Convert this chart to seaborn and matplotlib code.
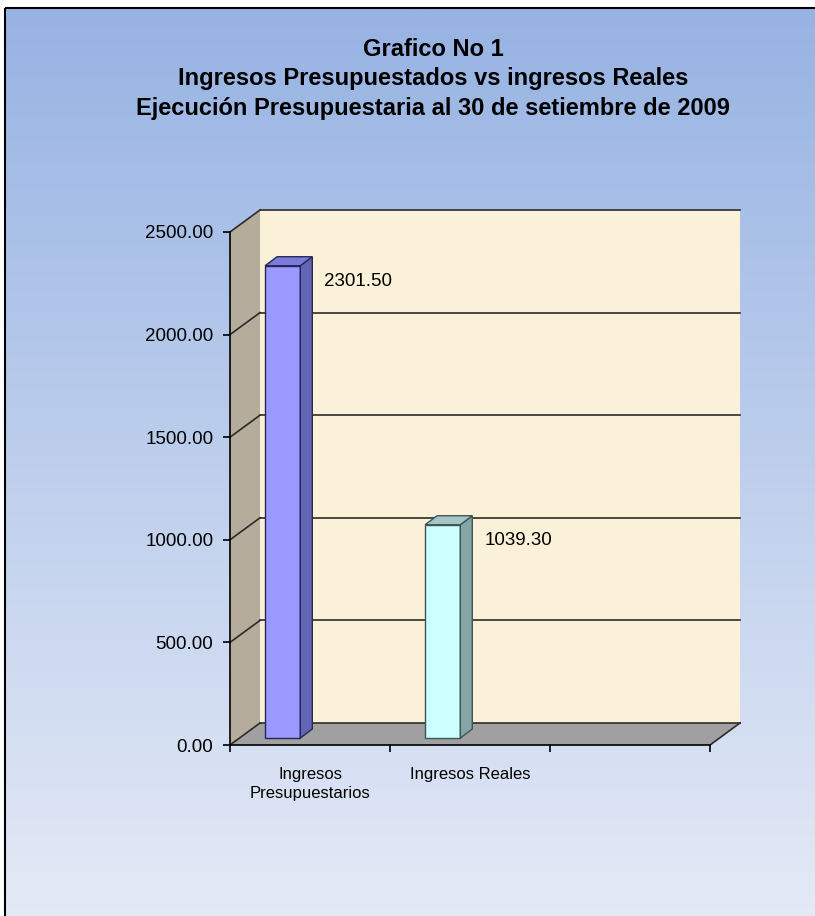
import numpy as np
import matplotlib
matplotlib.use('Agg')
import matplotlib.pyplot as plt
from matplotlib.patches import Polygon, Rectangle
import seaborn as sns

categories = ['Ingresos\nPresupuestarios', 'Ingresos Reales']
values = [2301.50, 1039.30]
value_labels = ['2301.50', '1039.30']
slot_labels = ['Ingresos\nPresupuestarios', 'Ingresos Reales', '']
y_ticks = [0, 500, 1000, 1500, 2000, 2500]
title = ('Grafico No 1\nIngresos Presupuestados vs ingresos Reales\n'
         'Ejecución Presupuestaria al 30 de setiembre de 2009')

bar_colors = ['#9999ff', '#ccffff']
side_colors = ['#6464b4', '#86a6a6']
top_colors = ['#7b7bd8', '#a6c6c6']
edge_colors = ['#26265a', '#3f5656']

plt.rcParams['font.family'] = ['Liberation Sans', 'DejaVu Sans']

W, H = 815, 916
fig = plt.figure(figsize=(W / 100, H / 100), dpi=100)

# gradient background + frame, in pixel coords
bg = fig.add_axes([0, 0, 1, 1], zorder=-5)
bg.set_xlim(0, W)
bg.set_ylim(H, 0)
bg.axis('off')
c_top = np.array([0x97, 0xb3, 0xe3]) / 255
c_bot = np.array([0xe4, 0xea, 0xf6]) / 255
t = np.linspace(0, 1, 300)[:, None, None]
grad = c_top + (c_bot - c_top) * t
bg.imshow(grad, aspect='auto', extent=(5, W + 5, H + 5, 8), interpolation='bilinear')
bg.add_patch(Rectangle((5, 8), W + 20, H + 20, fill=False, ec='black', lw=1.5))

# front plane of the 3d box
ax = fig.add_axes([230 / W, (H - 745) / H, 480 / W, 513 / H])
ax.set_facecolor('none')

sns.barplot(x=categories, y=values, hue=categories, palette=bar_colors,
            width=0.22, saturation=1, legend=False, ax=ax, zorder=3)
bars = list(ax.patches)

x0, x1 = -0.27, 2.73
y0, y1 = 0, 2500
ax.set_xlim(x0, x1)
ax.set_ylim(y0, y1)

# pixel -> data unit conversion for depth offsets
ux = (x1 - x0) / 480
uy = (y1 - y0) / 513


def off(x, y, px, py):
    return (x + px * ux, y + py * uy)


D = (30, 22)        # depth of the box
BF = (9.5, 7)       # bar front face
BB = (21.5, 16)     # bar back face

wall_kw = dict(clip_on=False, lw=0)
# back wall
ax.add_patch(Polygon([off(x0, y0, *D), off(x1, y0, *D), off(x1, y1, *D), off(x0, y1, *D)],
                     fc='#fbf1d8', zorder=0.5, **wall_kw))
# side wall
ax.add_patch(Polygon([(x0, y0), (x0, y1), off(x0, y1, *D), off(x0, y0, *D)],
                     fc='#b6ac9c', zorder=0.6, **wall_kw))
# floor
ax.add_patch(Polygon([(x0, y0), (x1, y0), off(x1, y0, *D), off(x0, y0, *D)],
                     fc='#a0a0a0', zorder=0.7, **wall_kw))

line_kw = dict(color='#2b2b2b', lw=1.2, clip_on=False, zorder=0.9)
for v in y_ticks:
    a = off(x0, v, *D)
    b = off(x1, v, *D)
    ax.plot([a[0], b[0]], [a[1], b[1]], **line_kw)
    ax.plot([x0, a[0]], [v, a[1]], **line_kw)
# floor outline
c = off(x1, y0, *D)
ax.plot([x1, c[0]], [y0, c[1]], **line_kw)

# bars: move front face into the box and add side / top faces
for i, p in enumerate(bars):
    x, w, h = p.get_x(), p.get_width(), p.get_height()
    xr = x + w
    fx, fy = off(x, 0, *BF)
    p.set_x(fx)
    p.set_y(fy)
    p.set_edgecolor(edge_colors[i])
    p.set_linewidth(1)
    ax.add_patch(Polygon([off(xr, 0, *BF), off(xr, h, *BF), off(xr, h, *BB), off(xr, 0, *BB)],
                         fc=side_colors[i], ec=edge_colors[i], lw=1, clip_on=False, zorder=3))
    ax.add_patch(Polygon([off(x, h, *BF), off(xr, h, *BF), off(xr, h, *BB), off(x, h, *BB)],
                         fc=top_colors[i], ec=edge_colors[i], lw=1, clip_on=False, zorder=3))
    p.set_clip_on(False)
    ax.annotate(value_labels[i], xy=(xr, h), xytext=(24, -6), textcoords='offset points',
                ha='left', va='center', fontsize=13.5, color='black')

# axes, ticks
for s in ['top', 'right']:
    ax.spines[s].set_visible(False)
for s in ['left', 'bottom']:
    ax.spines[s].set_color('black')
    ax.spines[s].set_linewidth(1.2)
    ax.spines[s].set_zorder(4)

ax.set_yticks(y_ticks)
ax.set_yticklabels([f'{v:.2f}' for v in y_ticks], fontsize=13.5)
ax.tick_params(axis='y', length=5, width=1.2, pad=7, color='black')

ax.set_xticks([x0, x0 + 1, x0 + 2, x1])
ax.set_xticklabels([])
ax.set_xticks([x0 + 0.5, x0 + 1.5, x0 + 2.5], minor=True)
ax.set_xticklabels(slot_labels, minor=True, fontsize=12, linespacing=1.3)
ax.tick_params(axis='x', which='major', length=5, width=1.2, color='black')
ax.tick_params(axis='x', which='minor', length=0, pad=16)
ax.set_xlabel('')
ax.set_ylabel('')

fig.text(433 / W, 1 - 79 / H, title, ha='center', va='center', fontsize=17,
         fontweight='bold', linespacing=1.38)

fig.savefig('out.png', dpi=100)
